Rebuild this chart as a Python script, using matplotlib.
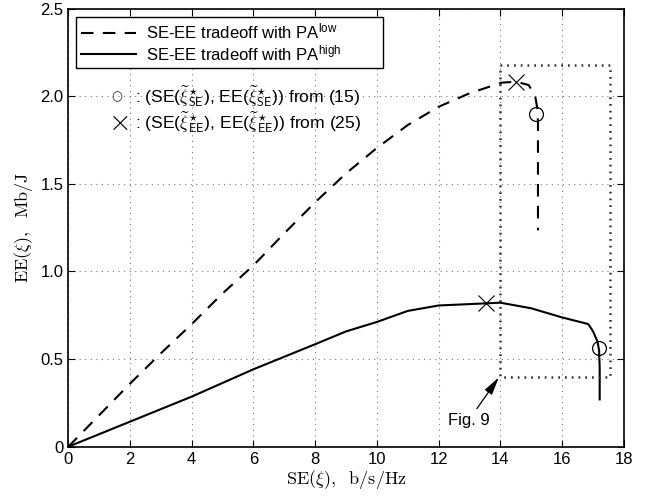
import numpy as np
import matplotlib
matplotlib.use('Agg')
import matplotlib.pyplot as plt

plt.rcParams['font.family'] = ['Liberation Sans', 'DejaVu Sans']
plt.rcParams['mathtext.fontset'] = 'custom'
plt.rcParams['mathtext.rm'] = 'Liberation Sans'
plt.rcParams['mathtext.it'] = 'Liberation Sans:italic'

# ---- data ----
se_low = [0, 2, 3, 4, 5, 6, 7, 8, 9, 10, 11, 12, 13, 14.05, 14.52, 14.92, 15.13, 15.2, 15.22, 15.22]
ee_low = [0, 0.36, 0.533, 0.70, 0.875, 1.035, 1.218, 1.395, 1.56, 1.705, 1.836, 1.94, 2.017, 2.078,
          2.083, 2.064, 2.00, 1.93, 1.85, 1.235]

se_high = [0, 2, 4, 6, 8, 9, 10, 11, 12, 13.52, 14, 15, 16, 16.85, 17.0, 17.15, 17.2, 17.22, 17.22]
ee_high = [0, 0.143, 0.286, 0.442, 0.585, 0.658, 0.712, 0.775, 0.806, 0.818, 0.822, 0.79, 0.738,
           0.70, 0.66, 0.60, 0.55, 0.45, 0.27]

# optimal points: circle from (15), cross from (25)
se_opt_low, ee_opt_low = 15.15, 1.90
se_eeopt_low, ee_eeopt_low = 14.52, 2.083
se_opt_high, ee_opt_high = 17.2, 0.565
se_eeopt_high, ee_eeopt_high = 13.52, 0.818

# zoom box referring to Fig. 9
box_x = [14, 17.55]
box_y = [0.40, 2.18]

fig = plt.figure(figsize=(6.55, 4.99), dpi=100)
ax = fig.add_axes([0.1043, 0.1048, 0.8480, 0.8778])

ax.plot(se_low, ee_low, color='k', lw=1.5, ls=(0, (6, 4.5)),
        label=r'SE-EE tradeoff with PA$^{\mathrm{low}}$')
ax.plot(se_high, ee_high, color='k', lw=1.5, ls='-',
        label=r'SE-EE tradeoff with PA$^{\mathrm{high}}$')

ax.plot([se_opt_low, se_opt_high], [ee_opt_low, ee_opt_high], 'o', ms=10,
        mfc='none', mec='k', mew=0.9, zorder=5)
ax.plot([se_eeopt_low, se_eeopt_high], [ee_eeopt_low, ee_eeopt_high], 'x', ms=12,
        mec='k', mew=0.8, zorder=5)

bx = [box_x[0], box_x[1], box_x[1], box_x[0], box_x[0]]
by = [box_y[1], box_y[1], box_y[0], box_y[0], box_y[1]]
ax.plot(bx, by, color='#333333', lw=1.8, ls=(0, (0.7, 2.0)))

ax.annotate('Fig. 9', xy=(box_x[0] - 0.05, box_y[0] - 0.005), xytext=(12.98, 0.152),
            ha='center', va='center', fontsize=12,
            arrowprops=dict(arrowstyle='-|>,head_length=0.9,head_width=0.22',
                            color='k', lw=0.9, shrinkA=1, shrinkB=0))

# marker explanation text
ax.text(1.4, 2.0, '\u25CB', fontsize=9, ha='left', va='center',
        family=['DejaVu Sans'], color='#222222')
ax.text(1.3, 1.855, r'$\times$', fontsize=21, ha='left', va='center',
        math_fontfamily='cm')
ax.text(2.15, 2.0,
        r': (SE($\widetilde{\xi}^{\star}_{\mathsf{SE}}$), EE($\widetilde{\xi}^{\star}_{\mathsf{SE}}$)) from (15)',
        fontsize=12.6, ha='left', va='center', math_fontfamily='cm')
ax.text(2.15, 1.855,
        r': (SE($\widetilde{\xi}^{\star}_{\mathsf{EE}}$), EE($\widetilde{\xi}^{\star}_{\mathsf{EE}}$)) from (25)',
        fontsize=12.6, ha='left', va='center', math_fontfamily='cm')

ax.set_xlim(0, 18)
ax.set_ylim(0, 2.5)
ax.set_xticks(np.arange(0, 19, 2))
ax.set_yticks([0, 0.5, 1.0, 1.5, 2.0, 2.5])
ax.set_yticklabels(['0', '0.5', '1.0', '1.5', '2.0', '2.5'])
ax.tick_params(direction='in', top=True, right=True, labelsize=12, length=5, width=0.8)
ax.grid(True, ls=(0, (1, 4)), color='#777777', lw=0.8)
for s in ax.spines.values():
    s.set_linewidth(1.2)

ax.set_xlabel(r'$\mathrm{SE}(\xi),\ \ \mathrm{b/s/Hz}$', fontsize=13, math_fontfamily='cm', labelpad=1)
ax.set_ylabel(r'$\mathrm{EE}(\xi),\ \ \mathrm{Mb/J}$', fontsize=13, math_fontfamily='cm', labelpad=4)

leg = ax.legend(loc='upper left', bbox_to_anchor=(0.0139, 0.8737, 0.5526, 0.108), mode='expand',
                fontsize=12, handlelength=3.3, fancybox=False,
                framealpha=1, edgecolor='k', borderaxespad=0, borderpad=0.3,
                labelspacing=0.1, handletextpad=0.6)
leg.get_frame().set_linewidth(1.0)

fig.savefig('out.png', dpi=100)
